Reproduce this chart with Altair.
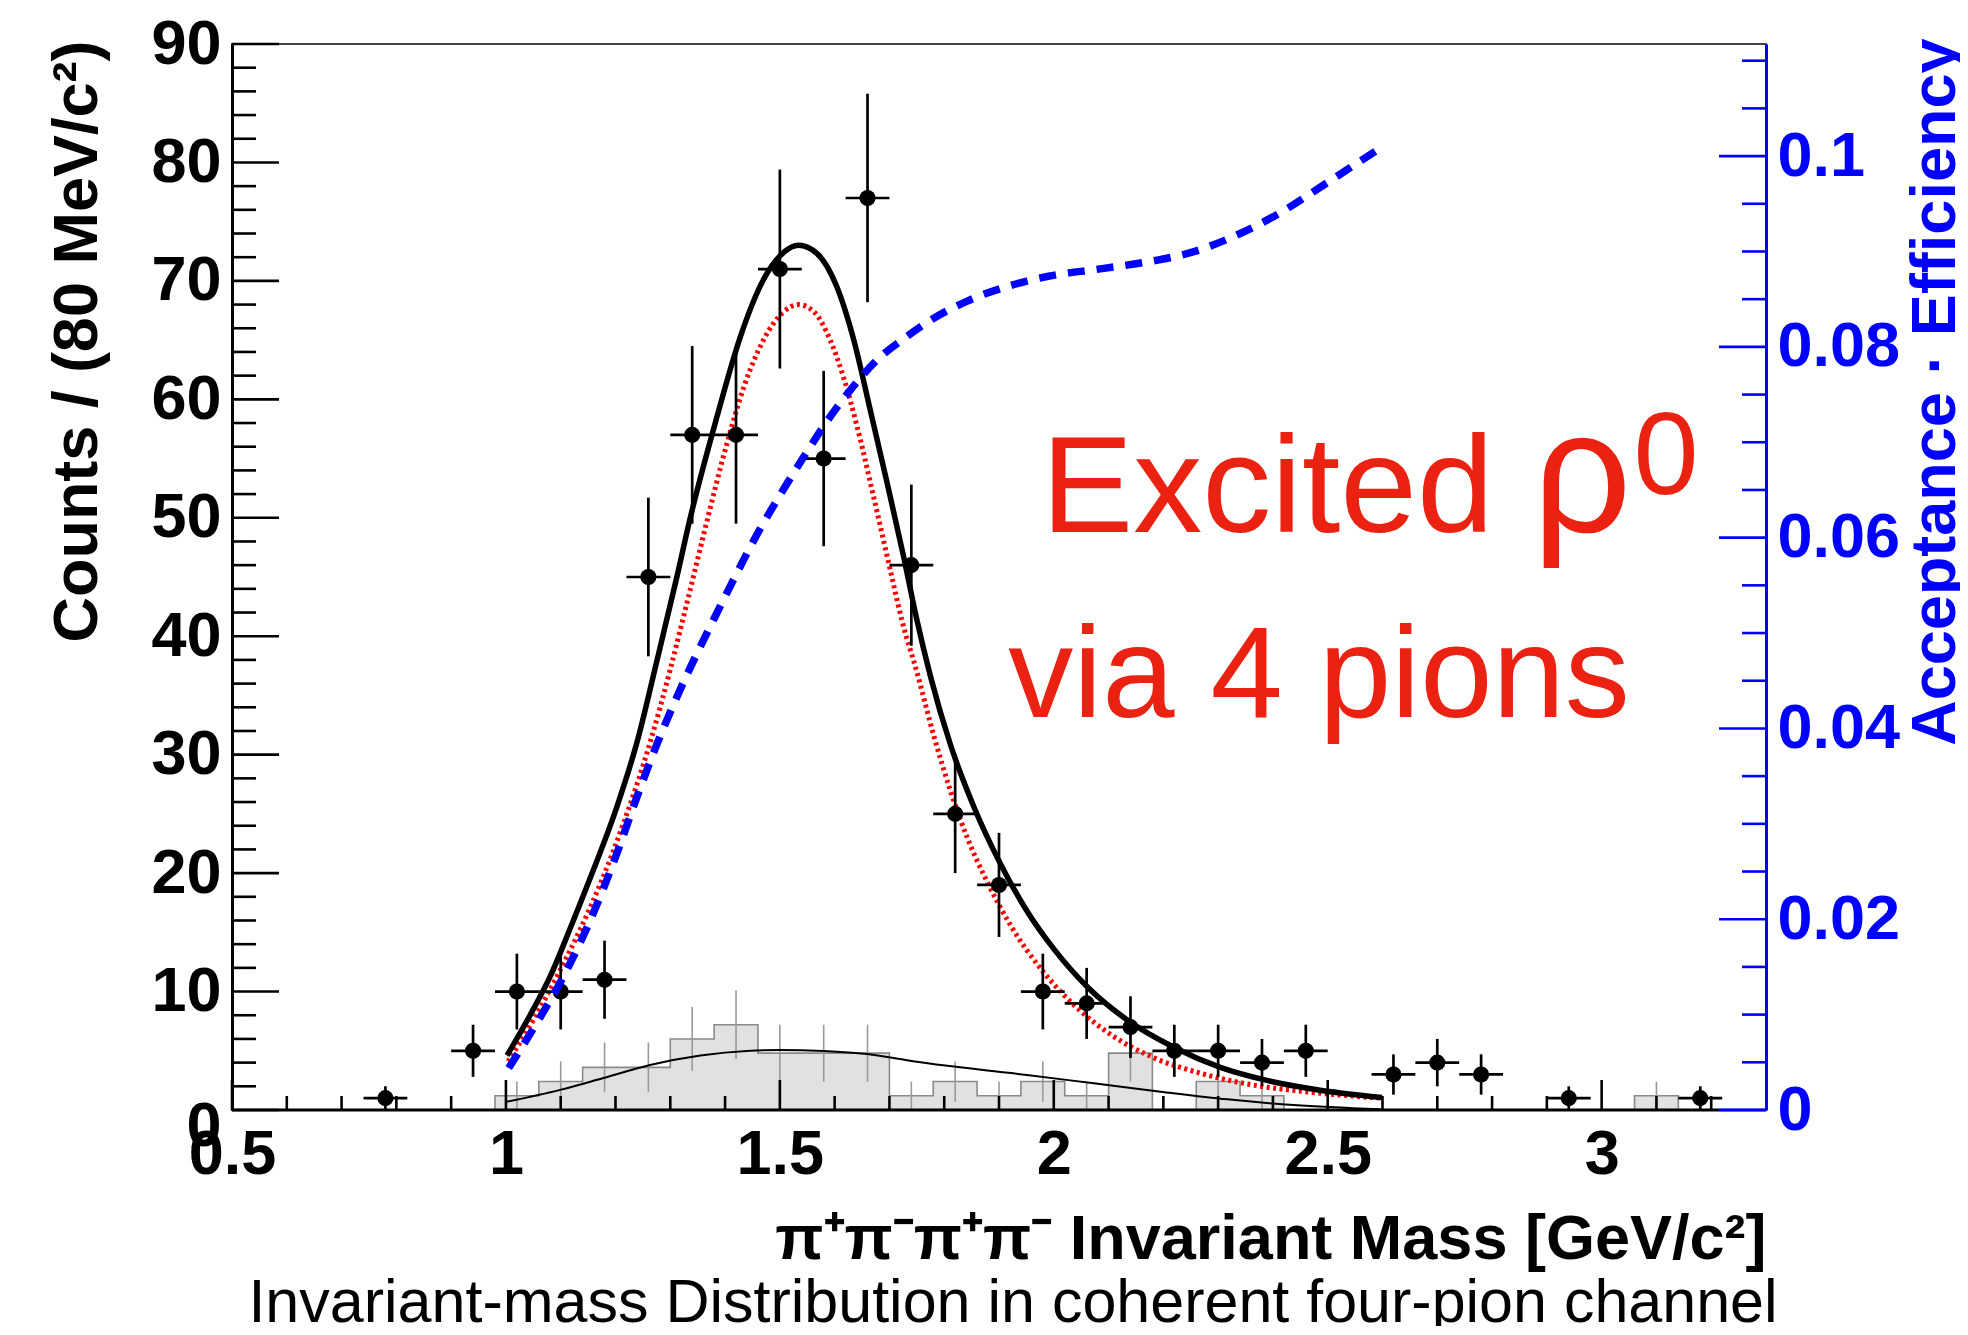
import altair as alt
import pandas as pd

# ---------------- data ----------------
# measured data points (counts / 80 MeV bin), bin centres in GeV/c^2
pt_mass = [0.78, 0.94, 1.02, 1.10, 1.18, 1.26, 1.34, 1.42, 1.50, 1.58, 1.66, 1.74, 1.82,
           1.90, 1.98, 2.06, 2.14, 2.22, 2.30, 2.38, 2.46, 2.62, 2.70, 2.78, 2.94, 3.18]
pt_counts = [1, 5, 10, 10, 11, 45, 57, 57, 71, 55, 77, 46, 25,
             19, 10, 9, 7, 5, 5, 4, 5, 3, 4, 3, 1, 1]
pt_err = [1.0, 2.2, 3.2, 3.2, 3.3, 6.7, 7.5, 7.5, 8.4, 7.4, 8.8, 6.8, 5.0,
          4.4, 3.2, 3.0, 2.6, 2.2, 2.2, 2.0, 2.2, 1.7, 2.0, 1.7, 1.0, 1.0]
BIN_HALF = 0.04

# grey background histogram (left bin edges, contents, errors)
hist_lo = [0.98, 1.06, 1.14, 1.22, 1.30, 1.38, 1.46, 1.54, 1.62, 1.70, 1.78, 1.86, 1.94, 2.02,
           2.10, 2.18, 2.26, 2.34, 2.42, 2.50, 2.58, 2.66, 2.74, 2.82, 2.90, 2.98, 3.06, 3.14]
hist_val = [1.2, 2.4, 3.6, 3.6, 6.0, 7.2, 4.8, 4.8, 4.8, 1.2, 2.4, 1.2, 2.4, 1.2,
            4.8, 0.0, 2.4, 1.2, 0.0, 0.0, 0.0, 0.0, 0.0, 0.0, 0.0, 0.0, 1.2, 0.0]
hist_err = [1.2, 1.7, 2.1, 2.1, 2.7, 2.9, 2.4, 2.4, 2.4, 1.2, 1.7, 1.2, 1.7, 1.2,
            2.4, 0.0, 1.7, 1.2, 0.0, 0.0, 0.0, 0.0, 0.0, 0.0, 0.0, 0.0, 1.2, 0.0]
HIST_LAST_EDGE = 3.22

# total fit (thick black)
tot_x = [1.002, 1.044, 1.081, 1.117, 1.154, 1.2025, 1.239, 1.276, 1.312, 1.336, 1.385, 1.428,
         1.470, 1.507, 1.534, 1.568, 1.604, 1.635, 1.665, 1.696, 1.726, 1.750, 1.775, 1.811,
         1.855, 1.9025, 1.951, 2.000, 2.061, 2.134, 2.219, 2.304, 2.389, 2.475, 2.599]
tot_y = [4.6, 8.0, 11.3, 15.3, 19.6, 25.6, 31.0, 38.0, 45.0, 49.9, 58.5, 65.3,
         70.1, 72.4, 73.0, 72.3, 69.5, 65.0, 59.1, 52.9, 46.7, 41.4, 36.6, 30.9,
         25.5, 20.8, 16.8, 13.6, 10.4, 7.6, 5.3, 3.6, 2.5, 1.75, 1.05]

# signal component (red dotted)
sig_x = [1.004, 1.050, 1.099, 1.175, 1.2146, 1.263, 1.300, 1.333, 1.361, 1.403, 1.434, 1.470,
         1.507, 1.534, 1.562, 1.592, 1.616, 1.641, 1.671, 1.702, 1.723, 1.750, 1.781, 1.811,
         1.842, 1.878, 1.921, 1.982, 2.043, 2.103, 2.183, 2.268, 2.365, 2.469, 2.596]
sig_y = [4.1, 7.6, 11.8, 19.4, 24.2, 31.0, 37.2, 43.3, 48.6, 56.2, 61.0, 65.0,
         67.4, 68.0, 67.4, 65.0, 61.9, 57.7, 51.8, 45.5, 41.3, 37.0, 31.6, 27.0,
         23.0, 19.3, 15.6, 11.6, 8.6, 6.4, 4.4, 3.1, 2.1, 1.5, 1.0]

# background fit (thin black)
bkg_x = [1.002, 1.099, 1.178, 1.263, 1.355, 1.446, 1.501, 1.580, 1.659, 1.750, 1.829,
         1.951, 2.073, 2.195, 2.317, 2.438, 2.596]
bkg_y = [0.7, 1.7, 2.7, 3.8, 4.6, 5.0, 5.07, 4.98, 4.73, 4.08, 3.6,
         2.96, 2.25, 1.55, 0.9, 0.42, 0.06]

# acceptance x efficiency (blue dashed, right axis)
acc_x = [1.005, 1.056, 1.105, 1.154, 1.2025, 1.239, 1.276, 1.312, 1.355, 1.379, 1.4155, 1.458,
         1.507, 1.5495, 1.586, 1.629, 1.677, 1.732, 1.781, 1.842, 1.925, 1.990, 2.088, 2.170,
         2.251, 2.333, 2.4145, 2.496, 2.600]
acc_y = [0.0044, 0.0091, 0.0140, 0.0199, 0.0269, 0.0328, 0.0384, 0.0433, 0.0486, 0.0514, 0.0556,
         0.0603, 0.0651, 0.0690, 0.0722, 0.0755, 0.0786, 0.0811, 0.0830, 0.0848, 0.0865, 0.0874,
         0.0882, 0.0889, 0.0899, 0.0917, 0.0941, 0.0971, 0.1010]

# axes ticks
x_major = [0.5, 1.0, 1.5, 2.0, 2.5, 3.0]
x_minor = [0.6, 0.7, 0.8, 0.9, 1.1, 1.2, 1.3, 1.4, 1.6, 1.7, 1.8, 1.9, 2.1, 2.2, 2.3, 2.4,
           2.6, 2.7, 2.8, 2.9, 3.1, 3.2]
y_major = [0, 10, 20, 30, 40, 50, 60, 70, 80, 90]
y_minor = [2, 4, 6, 8, 12, 14, 16, 18, 22, 24, 26, 28, 32, 34, 36, 38, 42, 44, 46, 48,
           52, 54, 56, 58, 62, 64, 66, 68, 72, 74, 76, 78, 82, 84, 86, 88]
acc_major = [0, 0.02, 0.04, 0.06, 0.08, 0.1]
acc_minor = [0.005, 0.01, 0.015, 0.025, 0.03, 0.035, 0.045, 0.05, 0.055, 0.065, 0.07, 0.075,
             0.085, 0.09, 0.095, 0.105, 0.11]

X_DOMAIN = [0.5, 3.3]
Y_DOMAIN = [0, 90]
ACC_DOMAIN = [0, 0.11175]
BLUE_AXIS_START = 3.215

# ---------------- styling ----------------
W, H = 1534, 1066
FONT = "Liberation Sans"
BLUE = "#0000ff"
RED_TXT = "#eb2111"

xs = alt.Scale(domain=X_DOMAIN, nice=False, zero=False)
ys = alt.Scale(domain=Y_DOMAIN, nice=False, zero=False)
accs = alt.Scale(domain=ACC_DOMAIN, nice=False, zero=False)

x_axis = alt.Axis(values=x_major, format="~g", labelFont=FONT, labelFontSize=63,
                  labelFontWeight="bold", labelColor="black", labelPadding=13,
                  labelFlush=False, labelOverlap=False, ticks=False, domain=False, grid=False,
                  title="π⁺π⁻π⁺π⁻ Invariant Mass [GeV/c²]", titleFont=FONT, titleFontSize=63,
                  titleFontWeight="bold", titleColor="black", titleAlign="right",
                  titleBaseline="alphabetic", titleAnchor="end", titleX=W, titleY=148)

y_axis = alt.Axis(values=y_major, format="d", labelFont=FONT, labelFontSize=63,
                  labelFontWeight="bold", labelColor="black", labelPadding=11,
                  labelOffset={"condition": {"test": "datum.value == 0", "value": 16},
                               "value": 0},
                  labelFlush=False, labelOverlap=False, ticks=False, domain=True,
                  domainColor="black", domainWidth=3, grid=False, zindex=1,
                  title="Counts / (80 MeV/c²)", titleFont=FONT, titleFontSize=63,
                  titleFontWeight="bold", titleColor="black", titleAngle=270,
                  titleAlign="right", titleBaseline="alphabetic", titleX=-136, titleY=-4)

acc_axis = alt.Axis(orient="right", values=acc_major, format="~g", labelFont=FONT,
                    labelFontSize=63, labelFontWeight="bold", labelColor=BLUE, labelPadding=11,
                    labelFlush=False, labelOverlap=False, ticks=False, domain=True,
                    domainColor=BLUE, domainWidth=3, grid=False, zindex=1,
                    title="Acceptance · Efficiency", titleFont=FONT, titleFontSize=63,
                    titleFontWeight="bold", titleColor=BLUE, titleAngle=270,
                    titleAlign="right", titleBaseline="alphabetic", titleX=188, titleY=-6)


def X(f):
    return alt.X(f, type="quantitative", scale=xs, axis=x_axis)


def Y(f):
    return alt.Y(f, type="quantitative", scale=ys, axis=y_axis)


def A(f):
    return alt.Y(f, type="quantitative", scale=accs, axis=acc_axis)


# ---------------- tables ----------------
df_pts = pd.DataFrame({"m": pt_mass, "n": pt_counts, "e": pt_err})
df_pts["lo"] = df_pts["n"] - df_pts["e"]
df_pts["hi"] = df_pts["n"] + df_pts["e"]
df_pts["xl"] = df_pts["m"] - BIN_HALF
df_pts["xh"] = df_pts["m"] + BIN_HALF

step_x = [hist_lo[0]] + hist_lo + [HIST_LAST_EDGE]
step_y = [0.0] + hist_val + [0.0]
df_step = pd.DataFrame({"x": step_x, "y": step_y, "i": list(range(len(step_x)))})

df_herr = pd.DataFrame({"c": [v + BIN_HALF for v in hist_lo], "v": hist_val, "e": hist_err})
df_herr = df_herr[df_herr["v"] > 0].copy()
df_herr["lo"] = df_herr["v"] - df_herr["e"]
df_herr["hi"] = df_herr["v"] + df_herr["e"]

df_tot = pd.DataFrame({"x": tot_x, "y": tot_y})
df_sig = pd.DataFrame({"x": sig_x, "y": sig_y})
df_bkg = pd.DataFrame({"x": bkg_x, "y": bkg_y})
df_acc = pd.DataFrame({"x": acc_x, "y": acc_y})

df_xmaj = pd.DataFrame({"t": x_major})
df_xmin = pd.DataFrame({"t": x_minor})
df_ymaj = pd.DataFrame({"t": y_major})
df_ymin = pd.DataFrame({"t": y_minor})
df_amaj = pd.DataFrame({"t": acc_major})
df_amin = pd.DataFrame({"t": acc_minor})

df_bottom = pd.DataFrame({"x": [X_DOMAIN[0], BLUE_AXIS_START],
                          "x2": [BLUE_AXIS_START, X_DOMAIN[1]],
                          "y": [0, 0],
                          "col": ["black", BLUE]})

df_ann = pd.DataFrame({"txt": ["Excited", "ρ", "0", "via 4 pions"],
                       "x": [1.977, 2.874, 3.058, 1.917],
                       "y": [48.8, 48.8, 52.0, 33.2]})
ann_sizes = [138, 174, 117, 130]

# ---------------- left-axis layers ----------------
hist_area = alt.Chart(df_step).mark_area(interpolate="step-after", color="#e1e1e1").encode(
    x=X("x"), y=Y("y"))
hist_line = alt.Chart(df_step).mark_line(interpolate="step-after", color="#8a8a8a",
                                         strokeWidth=1.6).encode(
    x=X("x"), y=Y("y"), order="i:Q")
hist_bars = alt.Chart(df_herr).mark_rule(color="#9a9a9a", strokeWidth=1.6).encode(
    x=X("c"), y=Y("lo"), y2="hi:Q")
bkg_line = alt.Chart(df_bkg).mark_line(interpolate="monotone", color="black",
                                       strokeWidth=2).encode(x=X("x"), y=Y("y"))
sig_line = alt.Chart(df_sig).mark_line(interpolate="monotone", color="#ff0000",
                                       strokeWidth=5, strokeDash=[3, 3.5]).encode(
    x=X("x"), y=Y("y"))
tot_line = alt.Chart(df_tot).mark_line(interpolate="monotone", color="black",
                                       strokeWidth=5.5).encode(x=X("x"), y=Y("y"))

pts_xerr = alt.Chart(df_pts).mark_rule(color="black", strokeWidth=2.7).encode(
    x=X("xl"), x2="xh:Q", y=Y("n"))
pts_yerr = alt.Chart(df_pts).mark_rule(color="black", strokeWidth=2.7).encode(
    x=X("m"), y=Y("lo"), y2="hi:Q")
pts = alt.Chart(df_pts).mark_circle(color="black", size=260, opacity=1).encode(
    x=X("m"), y=Y("n"))

xt_major = alt.Chart(df_xmaj).mark_rule(color="black", strokeWidth=2.6).encode(
    x=X("t"), y=alt.value(H), y2=alt.value(H - 30))
xt_minor = alt.Chart(df_xmin).mark_rule(color="black", strokeWidth=2.6).encode(
    x=X("t"), y=alt.value(H), y2=alt.value(H - 14))
yt_major = alt.Chart(df_ymaj).mark_rule(color="black", strokeWidth=2.6).encode(
    y=Y("t"), x=alt.value(0), x2=alt.value(47))
yt_minor = alt.Chart(df_ymin).mark_rule(color="black", strokeWidth=2.6).encode(
    y=Y("t"), x=alt.value(0), x2=alt.value(24))

bottom_line = alt.Chart(df_bottom).mark_rule(strokeWidth=3).encode(
    x=X("x"), x2="x2:Q", y=Y("y"),
    color=alt.Color("col:N", scale=None))

ann_layers = []
for i, size in enumerate(ann_sizes):
    ann_layers.append(
        alt.Chart(df_ann.iloc[[i]]).mark_text(font=FONT, fontSize=size, color=RED_TXT,
                                              align="left", baseline="alphabetic").encode(
            x=X("x"), y=Y("y"), text="txt:N"))

left = alt.layer(hist_area, hist_line, hist_bars, bkg_line, sig_line, tot_line,
                 xt_major, xt_minor, yt_major, yt_minor, bottom_line,
                 pts_xerr, pts_yerr, pts, *ann_layers)

# ---------------- right-axis layers ----------------
acc_line = alt.Chart(df_acc).mark_line(interpolate="monotone", color=BLUE, strokeWidth=7.5,
                                       strokeDash=[17, 12]).encode(x=X("x"), y=A("y"))
at_major = alt.Chart(df_amaj).mark_rule(color=BLUE, strokeWidth=2.6).encode(
    y=A("t"), x=alt.value(W - 47), x2=alt.value(W))
at_minor = alt.Chart(df_amin).mark_rule(color=BLUE, strokeWidth=2.6).encode(
    y=A("t"), x=alt.value(W - 24), x2=alt.value(W))

right = alt.layer(acc_line, at_major, at_minor)

chart = alt.layer(left, right).resolve_scale(y="independent").properties(
    width=W, height=H,
    padding={"left": 224, "top": 36, "right": 194, "bottom": 216},
    autosize=alt.AutoSizeParams(type="none"),
    title=alt.TitleParams("Invariant-mass Distribution in coherent four-pion channel",
                          orient="bottom", anchor="middle", font=FONT, fontSize=61,
                          fontWeight="normal", color="black", offset=3, dx=14,
                          baseline="top"),
).configure_view(stroke="#444444", strokeWidth=2)

chart.save("out.html", embed_options={"renderer": "svg", "actions": False})
